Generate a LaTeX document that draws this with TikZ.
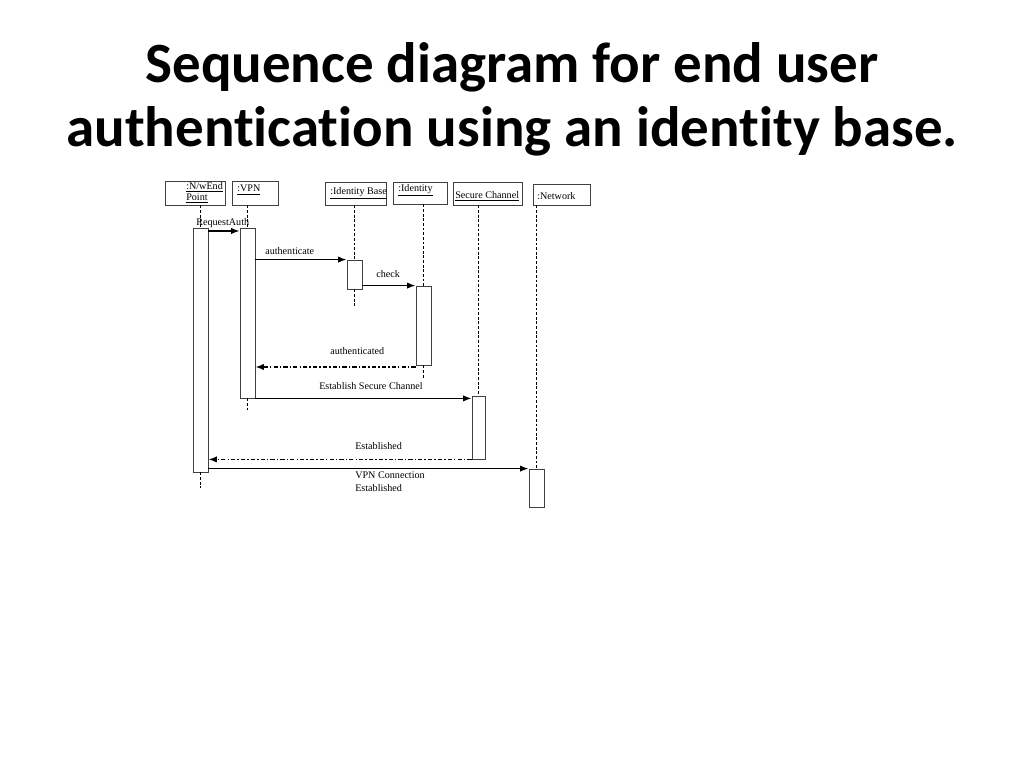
\documentclass[tikz,border=0pt]{standalone}
\usepackage{fontspec}
\setmainfont{Liberation Serif}
\newfontfamily\titlefont[Ligatures=NoCommon]{Carlito}
\usetikzlibrary{arrows.meta,fit}

\tikzset{
    head/.style={draw=black!75,line width=0.6pt,inner sep=0pt},
    headtext/.style={inner sep=0pt,align=left,font=\fontsize{7.2}{7.9}\selectfont},
    act/.style={draw=black!75,line width=0.6pt,inner sep=0pt,fill=white},
    life/.style={line width=1pt,dash pattern=on 2pt off 1.3pt},
    msg/.style={-{Latex[length=6pt,width=4.5pt]},line width=1pt},
    reply/.style={msg,dash pattern=on 3pt off 1.5pt on 1pt off 1.5pt},
    lbl/.style={inner sep=0pt,align=left,font=\fontsize{7.2}{8.6}\selectfont},
    ttl/.style={anchor=base,font=\titlefont\bfseries\fontsize{40.5}{48}\selectfont},
}

\begin{document}
\begin{tikzpicture}[x=0.025cm,y=-0.025cm]
    \useasboundingbox (0,0) rectangle (1024,768);

    \node[ttl] (title1) at (512,83) {Sequence diagram for end user};
    \node[ttl] (title2) at (512,147) {authentication using an identity base.};

    % object heads
    \node[head,fit={(165,181) (225,205)}] (nwHead) {};
    \node[head,fit={(232,181) (278,205)}] (vpnHead) {};
    \node[head,fit={(325,182) (386,205)}] (ibHead) {};
    \node[head,fit={(393,182) (447,204)}] (idHead) {};
    \node[head,fit={(453,182) (522,205)}] (scHead) {};
    \node[head,fit={(533,184) (590,205)}] (netHead) {};

    \node[headtext,anchor=north west] (nwText) at (186,182) {\underline{:N/wEnd}\\\underline{Point}};
    \node[headtext,anchor=west] (vpnText) at (237,190) {\underline{:VPN}};
    \node[headtext,anchor=west] (ibText) at (330,193) {\underline{:Identity Base}};
    \node[headtext,anchor=west] (idText) at (398,190) {\underline{:Identity}};
    \node[headtext,anchor=west] (scText) at (455,196) {\underline{Secure Channel}};
    \node[headtext,anchor=west] (netText) at (537,196) {:Network};

    % activations
    \node[act,fit={(193,228) (208,472)}] (nwAct) {};
    \node[act,fit={(240,228) (255,398)}] (vpnAct) {};
    \node[act,fit={(347,260) (362,289)}] (ibAct) {};
    \node[act,fit={(416,286) (431,365)}] (idAct) {};
    \node[act,fit={(472,396) (485,459)}] (scAct) {};
    \node[act,fit={(529,469) (544,507)}] (netAct) {};

    % lifelines
    \draw[life] (nwAct.north |- nwHead.south) -- (nwAct.north);
    \draw[life] (nwAct.south) -- ++(0,16);
    \draw[life] (vpnAct.north |- vpnHead.south) -- (vpnAct.north);
    \draw[life] (vpnAct.south) -- ++(0,12);
    \draw[life] (ibAct.north |- ibHead.south) -- (ibAct.north);
    \draw[life] (ibAct.south) -- ++(0,17);
    \draw[life] (idAct.north |- idHead.south) -- (idAct.north);
    \draw[life] (idAct.south) -- ++(0,13);
    \draw[life] (scAct.north |- scHead.south) -- (scAct.north);
    \draw[life] (netAct.north |- netHead.south) -- (netAct.north);

    % messages
    \draw[msg] (nwAct.east |- 0,231) -- (vpnAct.west |- 0,231);
    \node[lbl,anchor=west] (lReq) at (196,223) {RequestAuth};

    \draw[msg] (vpnAct.east |- ibAct.north) -- (ibAct.west |- ibAct.north);
    \node[lbl,anchor=west] (lAuth) at (265,251) {authenticate};

    \draw[msg] (ibAct.east |- idAct.north) -- (idAct.west |- idAct.north);
    \node[lbl,anchor=west] (lCheck) at (376,274) {check};

    \draw[reply] (idAct.west |- 0,367) -- (vpnAct.east |- 0,367);
    \node[lbl,anchor=west] (lAuthd) at (330,351) {authenticated};

    \draw[msg] (vpnAct.south east) -- (scAct.west |- vpnAct.south);
    \node[lbl,anchor=west] (lEst) at (319,386) {Establish Secure Channel};

    \draw[reply] (scAct.south west) -- (nwAct.east |- scAct.south);
    \node[lbl,anchor=west] (lEstd) at (355,446) {Established};

    \draw[msg] (nwAct.east |- netAct.north) -- (netAct.north west);
    \node[lbl,anchor=north west] (lVpn) at (355,472) {VPN Connection\\Established};
\end{tikzpicture}
\end{document}
